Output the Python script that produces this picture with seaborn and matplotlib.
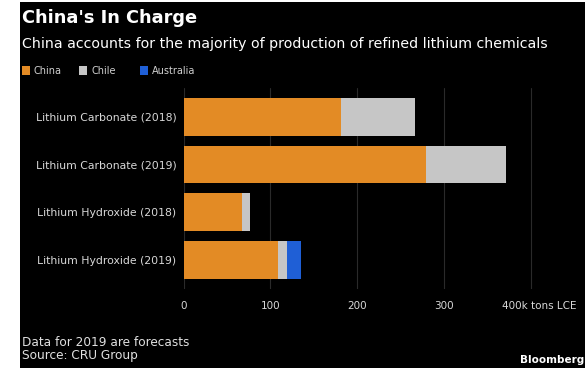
import matplotlib
matplotlib.use("Agg")
import matplotlib.pyplot as plt
import matplotlib.transforms as mtransforms
from matplotlib.patches import Rectangle
import seaborn as sns
import pandas as pd

categories = [
    "Lithium Carbonate (2018)",
    "Lithium Carbonate (2019)",
    "Lithium Hydroxide (2018)",
    "Lithium Hydroxide (2019)",
]
china = [182, 280, 68, 109]
chile = [85, 92, 9, 10]
australia = [0, 0, 0, 16]
series_names = ["China", "Chile", "Australia"]
series_colors = ["#E38B25", "#C6C6C6", "#1F5FD6"]
x_ticks = [0, 100, 200, 300, 400]
x_tick_labels = ["0", "100", "200", "300", "400k tons LCE"]

df = pd.DataFrame({"category": categories, "China": china,
                   "Chile": chile, "Australia": australia})
df["cum_china"] = df["China"]
df["cum_chile"] = df["cum_china"] + df["Chile"]
df["cum_australia"] = df["cum_chile"] + df["Australia"]

sns.set_theme(style="dark")
plt.rcParams["font.family"] = ["DejaVu Sans"]

W, H = 585, 370
fig = plt.figure(figsize=(W / 100, H / 100), dpi=100, facecolor="white")

# black panel behind everything
fig.patches.append(Rectangle((20 / W, 2 / H), 1 - 20 / W, 366 / H,
                             transform=fig.transFigure, facecolor="black",
                             edgecolor="none", zorder=-5))

x0 = 183.5
px_per_unit = 0.8675
ax_right = 565
ax = fig.add_axes([x0 / W, 1 - 288.7 / H, (ax_right - x0) / W, (288.7 - 88) / H])
ax.set_zorder(2)
ax.set_facecolor("black")

# stacked bars: draw cumulative totals back to front
for col, color in zip(["cum_australia", "cum_chile", "cum_china"],
                      [series_colors[2], series_colors[1], series_colors[0]]):
    sns.barplot(data=df, x=col, y="category", orient="h", color=color,
                width=0.79, saturation=1, linewidth=0, ax=ax, zorder=3)

ax.set_xlim(0, (ax_right - x0) / px_per_unit)
ax.set_ylim(3.6, -0.6)
ax.set_xlabel("")
ax.set_ylabel("")
ax.set_xticks(x_ticks)
ax.set_xticklabels(x_tick_labels)
ax.grid(False)
for t in x_ticks:
    ax.axvline(t, color="#2a2a2a", lw=0.8, zorder=1)
for s in ax.spines.values():
    s.set_visible(False)
ax.tick_params(axis="x", colors="#d8d8d8", labelsize=7.5, length=0, pad=9)
ax.tick_params(axis="y", colors="#d8d8d8", labelsize=7.8, length=0, pad=5)
last = ax.get_xticklabels()[-1]
last.set_transform(last.get_transform() +
                   mtransforms.ScaledTranslation(9 / 100, 0, fig.dpi_scale_trans))

# header
fig.text(22 / W, 1 - 18 / H, "China's In Charge", color="white",
         fontsize=12.8, fontweight="bold", va="center", ha="left")
fig.text(22 / W, 1 - 44 / H,
         "China accounts for the majority of production of refined lithium chemicals",
         color="white", fontsize=10.2, va="center", ha="left")

# legend
lx = [22, 79, 140]
for x, name, color in zip(lx, series_names, series_colors):
    fig.patches.append(Rectangle((x / W, 1 - 75 / H), 8 / W, 9 / H,
                                 transform=fig.transFigure, facecolor=color,
                                 edgecolor="none", zorder=2))
    fig.text((x + 12) / W, 1 - 70.5 / H, name, color="#cfcfcf",
             fontsize=7, va="center", ha="left")

# footer
fig.text(22 / W, 1 - 343 / H, "Data for 2019 are forecasts", color="#e0e0e0",
         fontsize=8.7, va="center", ha="left")
fig.text(22 / W, 1 - 355 / H, "Source: CRU Group", color="#e0e0e0",
         fontsize=8.7, va="center", ha="left")
fig.text(584 / W, 1 - 360 / H, "Bloomberg", color="white", fontsize=7.5,
         fontweight="bold", va="center", ha="right")

fig.savefig("out.png", dpi=100, facecolor="white")
